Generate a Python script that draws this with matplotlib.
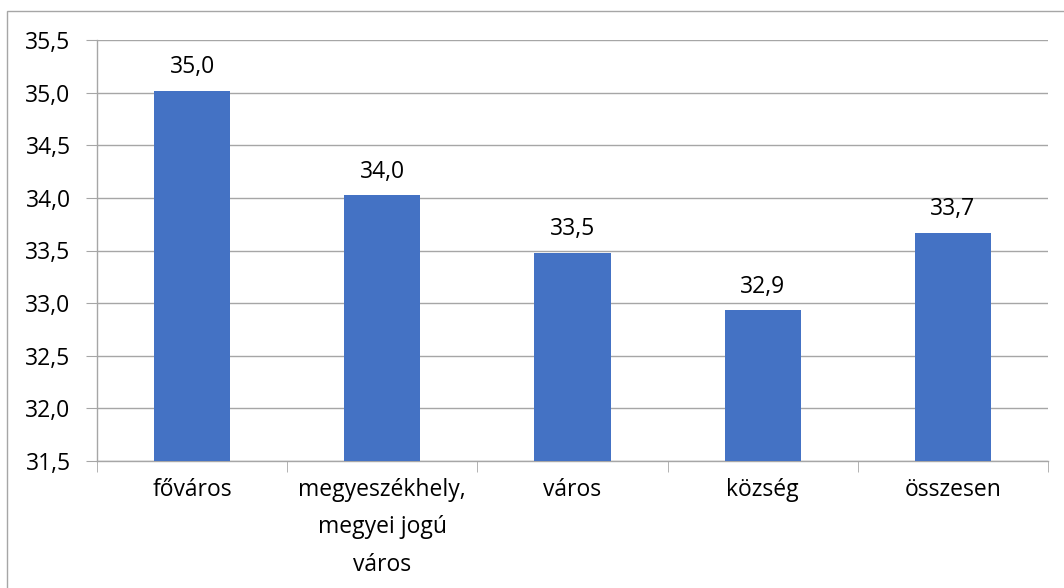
import matplotlib.pyplot as plt
from matplotlib.patches import Rectangle

# Data
categories = ['főváros', 'megyeszékhely,\nmegyei jogú\nváros', 'város', 'község', 'összesen']
values = [35.02, 34.03, 33.48, 32.93, 33.67]
value_labels = ['35,0', '34,0', '33,5', '32,9', '33,7']
y_ticks = [31.5, 32.0, 32.5, 33.0, 33.5, 34.0, 34.5, 35.0, 35.5]

plt.rcParams['font.family'] = ['Open Sans', 'DejaVu Sans']
FS = 16.5

fig = plt.figure(figsize=(10.64, 5.88), dpi=100)
ax = fig.add_axes([97 / 1064, 1 - 461 / 588, (1048 - 97) / 1064, (461 - 40) / 588])

# outer chart frame (runs off the right and bottom edge)
fig.patches.append(Rectangle((7 / 1064, -0.1), 1.2, 1 - 11 / 588 + 0.1,
                             transform=fig.transFigure, fill=False,
                             edgecolor='#a6a6a6', linewidth=1.0))

x = list(range(len(categories)))
ax.bar(x, values, width=0.4, color='#4472c4', zorder=3)

for xi, v, lab in zip(x, values, value_labels):
    ax.annotate(lab, (xi, v), xytext=(0, 8), textcoords='offset points',
                ha='center', va='bottom', fontsize=FS, color='#000000')

ax.set_xlim(-0.5, len(categories) - 0.5)
ax.set_ylim(31.5, 35.5)
ax.set_yticks(y_ticks)
ax.set_yticklabels([f'{t:.1f}'.replace('.', ',') for t in y_ticks], fontsize=FS)
ax.yaxis.grid(True, color='#a6a6a6', linewidth=1.0, zorder=0)
ax.tick_params(axis='y', length=8, color='#a6a6a6', pad=11)

# category labels centred, tick marks on category boundaries
ax.set_xticks(x)
ax.set_xticklabels(categories, fontsize=FS, linespacing=1.75, va='top')
ax.tick_params(axis='x', length=0, pad=12)
ax.set_xticks([i - 0.5 for i in range(len(categories) + 1)], minor=True)
ax.tick_params(axis='x', which='minor', length=8, color='#a6a6a6')

for side in ['top', 'right']:
    ax.spines[side].set_visible(False)
for side in ['left', 'bottom']:
    ax.spines[side].set_color('#a6a6a6')
    ax.spines[side].set_linewidth(1.0)

plt.savefig('out.png', dpi=100)
